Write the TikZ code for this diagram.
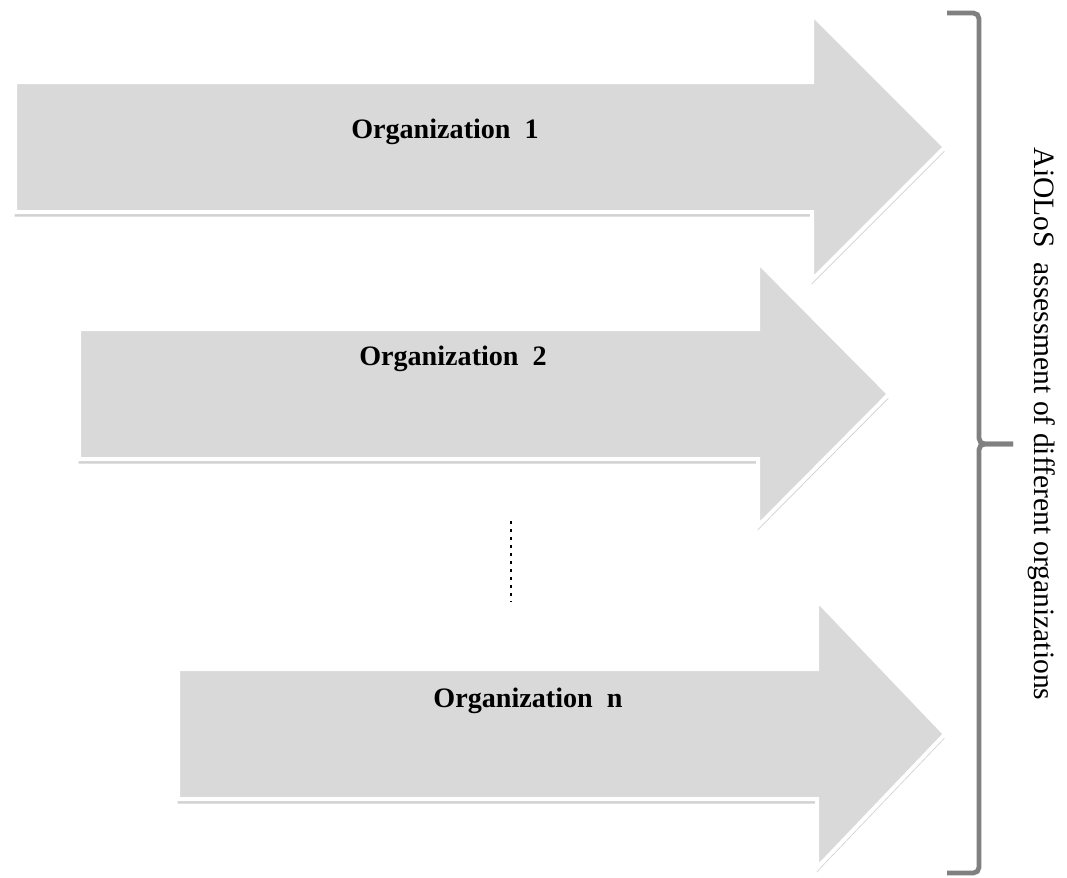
\documentclass[tikz,border=0pt]{standalone}
\usepackage{fontspec}
\setmainfont{Liberation Serif}
\usepackage{tikz}
\usetikzlibrary{shadows,calc}

\begin{document}
\begin{tikzpicture}[x=0.025cm, y=-0.025cm]
	\tikzset{
		orgarrow/.style={fill=black!15, draw=white, line width=1mm, line join=miter,
			drop shadow={shadow xshift=-0.3pt, shadow yshift=-3.2pt, opacity=0.3, fill=black!60}},
		orglabel/.style={anchor=base, font=\fontsize{20}{24}\selectfont\bfseries},
		bracket/.style={draw=black!50, line width=1.2mm, rounded corners=4pt},
		moredots/.style={line width=2pt, dash pattern=on 2pt off 3.7pt},
		sidelabel/.style={anchor=base, rotate=-90, font=\fontsize{21}{24}\selectfont}
	}
	\useasboundingbox (0,0) rectangle (1067,877);

	% the three arrows: left x / shaft centre y / head base x / head half height / tip x
	\foreach \l/\c/\hb/\hh/\tip in {15/147/812/133/945, 79/394/758/132/889, 178/734/817/134/945}
		\draw[orgarrow] (\l,{\c-65}) -- (\hb,{\c-65}) -- (\hb,{\c-\hh}) -- (\tip,\c)
			-- (\hb,{\c+\hh}) -- (\hb,{\c+65}) -- (\l,{\c+65}) -- cycle;

	\node[orglabel] (org1) at (445,138) {Organization~~1};
	\node[orglabel] (org2) at (453,365) {Organization~~2};
	\node[orglabel] (orgn) at (528,707) {Organization~~n};

	\coordinate (dotstop) at (511,521);
	\coordinate (dotsbot) at (511,602);
	\draw[moredots] (dotstop) -- (dotsbot);

	% brace on the right
	\coordinate (bracetop) at (947,13);
	\coordinate (bracetip) at (1013,444);
	\coordinate (bracebot) at (947,873);
	\draw[bracket] (bracetop) -- (979,13) -- (979,444) -- (bracetip);
	\draw[bracket] (bracetip) -- (979,444) -- (979,873) -- (bracebot);

	\node[sidelabel] (assess) at (1034,424) {AiOLoS~~assessment of different organizations};
\end{tikzpicture}
\end{document}
